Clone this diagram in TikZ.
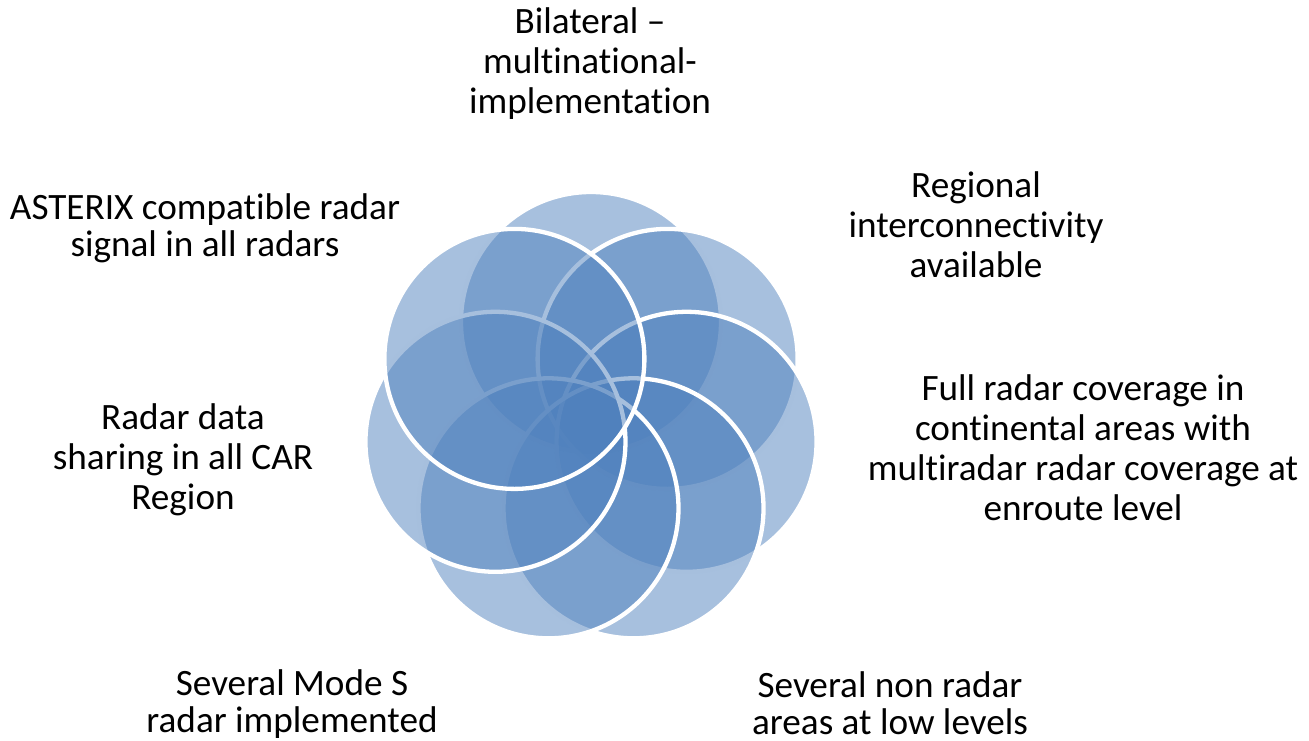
\documentclass[tikz,border=0pt]{standalone}
\usepackage{fontspec}
\setmainfont[Ligatures={NoCommon}]{Carlito}
\definecolor{accent}{RGB}{79,129,189}
\begin{document}
\begin{tikzpicture}[x=1pt,y=-1pt,
  petal/.style={circle, minimum size=260pt, inner sep=0pt, fill=accent, fill opacity=0.5, draw=white, draw opacity=1, line width=4.3pt},
  lbl/.style={align=center, font=\fontsize{37.2}{40}\selectfont, text=black, inner sep=0pt},
  lbltwo/.style={align=center, font=\fontsize{37.2}{37}\selectfont, text=black, inner sep=0pt}]
\useasboundingbox (0,0) rectangle (1309,741);
\foreach \k in {0,...,6} {
  \pgfmathsetmacro\ang{\k*360/7}
  \node[petal] (c\k) at ({591+98*sin(\ang)}, {420-98*cos(\ang)}) {};
}
\node[lbl] (t0) at (590,64) {Bilateral --\\multinational-\\implementation};
\node[lbl] (t1) at (976,225) {Regional\\interconnectivity\\available};
\node[lbl] (t2) at (1083,447.5) {Full radar coverage in\\continental areas with\\multiradar radar coverage at\\enroute level};
\node[lbltwo] (t3) at (890,703) {Several non radar\\areas at low levels};
\node[lbltwo] (t4) at (292,704.5) {Several Mode S\\radar implemented};
\node[lbl] (t5) at (183,460) {Radar data\\sharing in all CAR\\Region};
\node[lbltwo] (t6) at (205,228) {ASTERIX compatible radar\\signal in all radars};
\end{tikzpicture}
\end{document}
